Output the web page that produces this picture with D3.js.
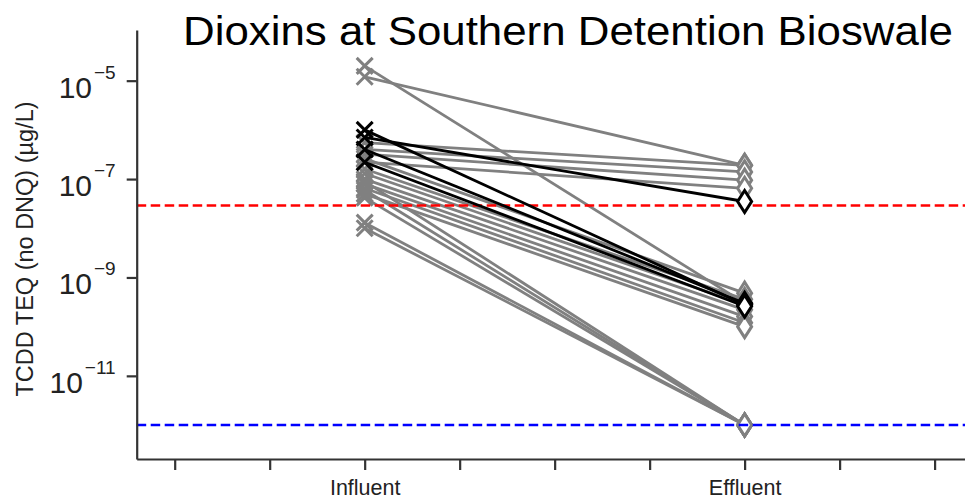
<!DOCTYPE html>
<html lang="en">
<head>
<meta charset="utf-8">
<title>Dioxins at Southern Detention Bioswale</title>
<script src="https://cdn.jsdelivr.net/npm/d3@7"></script>
<style>
  body { margin: 0; background: #fff; }
  text { font-family: "Liberation Sans", Arial, sans-serif; }
</style>
</head>
<body>
<script>

// categories on the x axis (positions 0 and 1), plus the unlabeled ticks
var categories = ["Influent", "Effluent"];
var xTickValues = [-0.5, -0.25, 0, 0.25, 0.5, 0.75, 1, 1.25, 1.5];
var yTickValues = [1e-5, 1e-7, 1e-9, 1e-11];
var yTickExponents = ["\u22125", "\u22127", "\u22129", "\u221211"];

// gray pairs: influent -> effluent (ug/L)
var grayInfluent = [2.0e-5, 1.2e-5, 5.5e-7, 4.0e-7, 3.2e-7, 2.2e-7, 2.6e-7, 1.6e-7, 1.3e-7,
                    1.0e-7, 8.0e-8, 6.5e-8, 5.0e-8, 4.2e-8, 6.0e-8, 1.3e-8, 1.0e-8, 9.0e-8];
var grayEffluent = [3.0e-10, 1.9e-7, 1.9e-7, 1.4e-7, 9.5e-8, 6.5e-8, 4.8e-10, 3.6e-10, 2.8e-10,
                    2.2e-10, 1.6e-10, 1.2e-10, 1.0e-10, 1e-12, 1e-12, 1e-12, 1e-12, 1e-12];

// black (highlighted) pairs
var blackInfluent = [1.0e-6, 7.0e-7, 4.0e-7, 2.2e-7];
var blackEffluent = [2.8e-10, 3.5e-8, 3.0e-10, 2.6e-10];

// reference levels
var redLevel = 2.9e-8;
var blueLevel = 1e-12;

var w = 965, h = 502;

var svg = d3.select("body").append("svg")
  .attr("width", w)
  .attr("height", h);

var xScale = d3.scaleLinear().domain([-0.6, 1.58]).range([136.7, 965]);
var yScale = d3.scaleLog().domain([Math.pow(10, -12.69), Math.pow(10, -3.97)]).range([459, 30]);

//Reference lines
function hline(v, color) {
  svg.append("line")
    .attr("x1", xScale(-0.6)).attr("x2", w)
    .attr("y1", yScale(v)).attr("y2", yScale(v))
    .attr("stroke", color)
    .attr("stroke-width", 2.6)
    .attr("stroke-dasharray", "9.5,4.5");
}

function drawPairs(inf, eff, color) {
  var pairs = inf.map(function(d, i) { return [d, eff[i]]; });
  var line = d3.line()
    .x(function(d, i) { return xScale(i); })
    .y(function(d) { return yScale(d); });

  svg.append("g").selectAll("path")
    .data(pairs)
    .enter().append("path")
    .attr("d", line)
    .attr("fill", "none")
    .attr("stroke", color)
    .attr("stroke-width", 2.8);

  // x markers at influent
  svg.append("g").selectAll("path")
    .data(inf)
    .enter().append("path")
    .attr("d", function(d) {
      var cx = xScale(0), cy = yScale(d), s = 8;
      return "M" + (cx - s) + "," + (cy - s) + "L" + (cx + s) + "," + (cy + s) +
             "M" + (cx - s) + "," + (cy + s) + "L" + (cx + s) + "," + (cy - s);
    })
    .attr("stroke", color)
    .attr("stroke-width", 3)
    .attr("fill", "none");

  // thin diamonds at effluent
  svg.append("g").selectAll("path")
    .data(eff)
    .enter().append("path")
    .attr("d", function(d) {
      var cx = xScale(1), cy = yScale(d), a = 7, b = 11;
      return "M" + cx + "," + (cy - b) + "L" + (cx + a) + "," + cy +
             "L" + cx + "," + (cy + b) + "L" + (cx - a) + "," + cy + "Z";
    })
    .attr("stroke", color)
    .attr("stroke-width", 3)
    .attr("fill", "white");
}

drawPairs(grayInfluent, grayEffluent, "#808080");
hline(redLevel, "#ff0000");
hline(blueLevel, "#0000ff");
drawPairs(blackInfluent, blackEffluent, "#000000");

//X axis
var xAxis = d3.axisBottom(xScale)
  .tickValues(xTickValues)
  .tickSize(11)
  .tickSizeOuter(0)
  .tickFormat(function(d) {
    if (d === 0) return categories[0];
    if (d === 1) return categories[1];
    return "";
  });

var gx = svg.append("g")
  .attr("transform", "translate(0," + 459 + ")")
  .call(xAxis);
gx.select(".domain").attr("stroke", "#333").attr("stroke-width", 2.2);
gx.selectAll(".tick line").attr("stroke", "#333").attr("stroke-width", 2.2);
gx.selectAll(".tick text")
  .attr("font-family", "Liberation Sans, Arial, sans-serif")
  .attr("font-size", 21.5)
  .attr("fill", "#222")
  .attr("dy", null)
  .attr("y", 36);

//Y axis
var yAxis = d3.axisLeft(yScale)
  .tickValues(yTickValues)
  .tickSize(10)
  .tickSizeOuter(0)
  .tickFormat("");

var gy = svg.append("g")
  .attr("transform", "translate(" + 136.7 + ",0)")
  .call(yAxis);
gy.select(".domain").attr("stroke", "#333").attr("stroke-width", 2.2);
gy.selectAll(".tick line").attr("stroke", "#333").attr("stroke-width", 2.2);

var yLab = gy.selectAll(".tick").append("text")
  .attr("x", -21)
  .attr("y", 16.5)
  .attr("text-anchor", "end")
  .attr("fill", "#222")
  .attr("font-family", "Liberation Sans, Arial, sans-serif");
yLab.append("tspan")
  .attr("font-size", 30)
  .text("10");
yLab.append("tspan")
  .attr("font-size", 19)
  .attr("dy", -19)
  .attr("dx", 2)
  .text(function(d, i) { return yTickExponents[i]; });

//Y label
svg.append("text")
  .attr("transform", "translate(33,249) rotate(-90)")
  .attr("text-anchor", "middle")
  .attr("font-size", 23.5)
  .attr("fill", "#222")
  .text("TCDD TEQ (no DNQ) (\u00b5g/L)");

//Title
svg.append("text")
  .attr("x", 183)
  .attr("y", 45)
  .attr("font-family", "Lato, 'Open Sans', sans-serif")
  .attr("font-size", 41)
  .attr("fill", "#000")
  .attr("textLength", 770)
  .attr("lengthAdjust", "spacingAndGlyphs")
  .text("Dioxins at Southern Detention Bioswale");

</script>
</body>
</html>
